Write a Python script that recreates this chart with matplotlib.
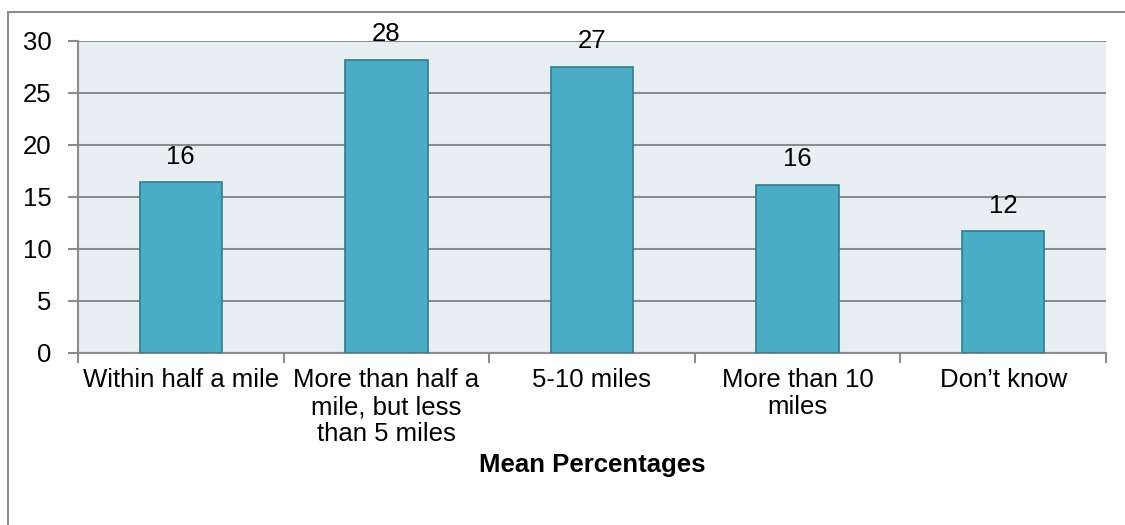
import matplotlib.pyplot as plt
from matplotlib.patches import Rectangle

plt.rcParams['font.family'] = ['Liberation Sans', 'DejaVu Sans']

categories = ["Within half a mile", "More than half a\nmile, but less\nthan 5 miles",
              "5-10 miles", "More than 10\nmiles", "Don\u2019t know"]
values = [16.4, 28.2, 27.5, 16.2, 11.7]
labels = ["16", "28", "27", "16", "12"]

fig = plt.figure(figsize=(11.25, 5.25), dpi=100)
W, H = 1125, 525
ax = fig.add_axes([78 / W, 1 - 353 / H, (1106 - 78) / W, (353 - 41) / H])

# outer chart frame (runs off the right and bottom edges)
fig.patches.append(Rectangle((8 / W, -0.1), 1.2, 1 - 12 / H + 0.1, transform=fig.transFigure,
                             fill=False, edgecolor='#8c8c8c', linewidth=1.5, clip_on=False))

fs = 18.5
ax.set_facecolor('#e8eff3')
x = list(range(len(categories)))
ax.bar(x, values, width=0.4, color='#4bacc6', edgecolor='#2c7d93', linewidth=1.2, zorder=3)
for xi, v, lab in zip(x, values, labels):
    ax.text(xi, v + 1.3, lab, ha='center', va='bottom', fontsize=fs, zorder=4)

ax.set_xlim(-0.5, len(categories) - 0.5)
ax.set_ylim(0, 30)
ax.set_yticks(range(0, 31, 5))
ax.yaxis.grid(True, color='#8c8c8c', linewidth=1.5, zorder=1)
ax.set_axisbelow(True)

ax.set_xticks([i - 0.5 for i in range(len(categories) + 1)])
ax.set_xticklabels([])
ax.set_xticks(x, minor=True)
ax.set_xticklabels(categories, minor=True, fontsize=fs, linespacing=1.15, va='top')
ax.tick_params(axis='x', which='minor', length=0, pad=11)
ax.tick_params(axis='x', which='major', length=7, color='#8c8c8c', width=1.5)
ax.tick_params(axis='y', length=7, color='#8c8c8c', width=1.5, labelsize=fs, pad=12)

for side in ['top', 'right']:
    ax.spines[side].set_visible(False)
for side in ['left', 'bottom']:
    ax.spines[side].set_color('#8c8c8c')
    ax.spines[side].set_linewidth(1.5)

ax.set_xlabel("Mean Percentages", fontsize=fs, fontweight='bold', labelpad=5)

fig.savefig('out.png', dpi=100)
